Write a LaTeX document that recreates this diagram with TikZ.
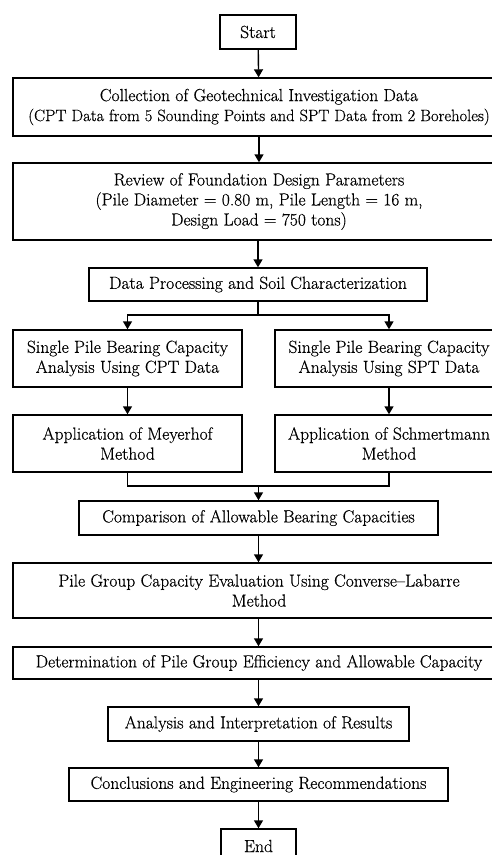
\documentclass[tikz,border=0pt]{standalone}
\usepackage{fontspec}
\setmainfont{Latin Modern Roman}[FakeBold=0.5]
\usetikzlibrary{arrows.meta}
\begin{document}
\begin{tikzpicture}[x=1pt,y=-1pt,
  box/.style={draw, line width=1.4pt, rectangle, inner sep=0pt, align=center,
    font=\fontsize{17.5}{20}\selectfont},
  conn/.style={line width=1.4pt},
  arr/.style={conn, -{Triangle[length=8pt,width=9pt]}}]
\clip (0,0) rectangle (492,855);
\fill[white] (0,0) rectangle (492,855);
\node[box, minimum width=76pt, minimum height=34pt] (start) at (258,32) {Start};
\node[box, minimum width=492pt, minimum height=58pt] (coll) at (259,107)
  {Collection of Geotechnical Investigation Data\\{\fontsize{16.5}{20}\selectfont (CPT Data from 5 Sounding Points and SPT Data from 2 Boreholes)}};
\node[box, minimum width=492pt, minimum height=77pt] (rev) at (259,201.5)
  {Review of Foundation Design Parameters\\(Pile Diameter = 0.80 m, Pile Length = 16 m,\\Design Load = 750 tons)};
\node[box, minimum width=338pt, minimum height=33pt] (proc) at (258,284.5)
  {Data Processing and Soil Characterization};
\node[box, minimum width=229pt, minimum height=57pt] (cpt) at (127.5,358.5)
  {Single Pile Bearing Capacity\\Analysis Using CPT Data};
\node[box, minimum width=228pt, minimum height=57pt] (spt) at (389,358.5)
  {Single Pile Bearing Capacity\\Analysis Using SPT Data};
\node[box, minimum width=229pt, minimum height=57pt] (mey) at (127.5,443.5)
  {Application of Meyerhof\\Method};
\node[box, minimum width=228pt, minimum height=57pt] (sch) at (389,443.5)
  {Application of Schmertmann\\Method};
\node[box, minimum width=359pt, minimum height=34pt] (comp) at (258.5,518)
  {Comparison of Allowable Bearing Capacities};
\node[box, minimum width=492pt, minimum height=55pt] (grp) at (259,590.5)
  {Pile Group Capacity Evaluation Using Converse--Labarre\\Method};
\node[box, minimum width=492pt, minimum height=32pt] (det) at (259,663)
  {Determination of Pile Group Efficiency and Allowable Capacity};
\node[box, minimum width=301pt, minimum height=34pt] (anal) at (258.5,724)
  {Analysis and Interpretation of Results};
\node[box, minimum width=379pt, minimum height=33pt] (concl) at (258.5,784.5)
  {Conclusions and Engineering Recommendations};
\node[box, minimum width=75pt, minimum height=34pt] (end) at (258.5,846) {End};
\coordinate (split) at (258,315);
\coordinate (merge) at (258.5,486);
\draw[arr] (start) -- (coll);
\draw[arr] (coll) -- (rev);
\draw[arr] (rev.south -| proc) -- (proc);
\draw[conn] (proc) -- (split);
\draw[arr] (split) -| (cpt.north);
\draw[arr] (split) -| (spt.north);
\draw[arr] (cpt) -- (mey);
\draw[arr] (spt) -- (sch);
\draw[conn] (mey.south) |- (merge);
\draw[conn] (sch.south) |- (merge);
\draw[arr] (merge) -- (comp);
\draw[arr] (comp.south) -- (comp.south |- grp.north);
\draw[arr] (grp.south -| anal) -- (det.north -| anal);
\draw[arr] (det.south -| anal) -- (anal);
\draw[arr] (anal) -- (concl);
\draw[arr] (concl) -- (end);
\end{tikzpicture}
\end{document}
